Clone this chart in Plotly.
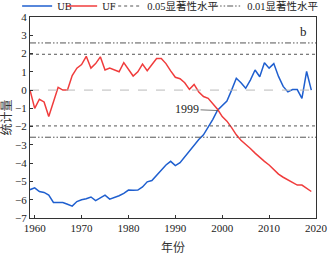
import plotly.graph_objects as go

years = list(range(1959, 2020))

uf = [0.0, -1.0, -0.5, -0.65, -1.45, -0.65, 0.15, 0.0, 0.0, 0.8,
      1.2, 1.4, 1.85, 1.2, 1.45, 1.82, 1.1, 1.2, 1.1, 1.0,
      1.5, 1.1, 0.77, 1.0, 1.42, 1.06, 1.4, 1.73, 1.73, 1.45,
      1.05, 0.7, 0.62, 0.4, 0.04, 0.31, -0.1, -0.35, -0.45, -0.75,
      -1.05, -1.45, -1.7, -2.05, -2.45, -2.75, -2.95, -3.2, -3.45, -3.7,
      -3.9, -4.1, -4.35, -4.6, -4.77, -4.9, -5.05, -5.2, -5.2, -5.4,
      -5.55]

ub = [-5.45, -5.35, -5.55, -5.6, -5.75, -6.15, -6.15, -6.15, -6.25, -6.35,
      -6.1, -6.0, -5.95, -5.85, -6.05, -5.9, -5.75, -5.97, -5.88, -5.78,
      -5.65, -5.47, -5.48, -5.47, -5.3, -5.02, -4.95, -4.65, -4.4, -4.1,
      -3.9, -4.13, -3.97, -3.65, -3.35, -3.0, -2.7, -2.45, -2.05, -1.6,
      -1.1, -0.82, -0.6, 0.0, 0.65, 0.4, 0.1, 0.55, 1.1, 0.73,
      1.5, 1.2, 1.45, 0.75, 0.2, -0.1, 0.03, 0.03, -0.45, 1.02,
      0.0]

x_span = [1959, 2020]
sig05 = 1.96
sig01 = 2.58
x_ticks = [1960, 1970, 1980, 1990, 2000, 2010, 2020]
y_ticks = [4, 3, 2, 1, 0, -1, -2, -3, -4, -5, -6, -7]

FONT = "Liberation Serif, Times New Roman, Noto Sans CJK SC, serif"
DASHDOT = "6px,2px,1.5px,2px,1.5px,2px"
GRAY = "#555555"

fig = go.Figure()
fig.add_trace(go.Scatter(x=years, y=ub, mode="lines", name="UB", legendwidth=0.01,
                         line=dict(color="#1f5fcf", width=1.5)))
fig.add_trace(go.Scatter(x=years, y=uf, mode="lines", name="UF", legendwidth=0.01,
                         line=dict(color="#f03c3c", width=1.5)))
fig.add_trace(go.Scatter(x=x_span, y=[sig05, sig05], mode="lines", name="0.05显著性水平",
                         legendwidth=55, line=dict(color=GRAY, width=1, dash="dot")))
fig.add_trace(go.Scatter(x=x_span, y=[-sig05, -sig05], mode="lines", showlegend=False,
                         line=dict(color=GRAY, width=1, dash="dot")))
fig.add_trace(go.Scatter(x=x_span, y=[sig01, sig01], mode="lines", name="0.01显著性水平",
                         legendwidth=75, line=dict(color=GRAY, width=1, dash=DASHDOT)))
fig.add_trace(go.Scatter(x=x_span, y=[-sig01, -sig01], mode="lines", showlegend=False,
                         line=dict(color=GRAY, width=1, dash=DASHDOT)))
fig.add_trace(go.Scatter(x=x_span, y=[0, 0], mode="lines", showlegend=False,
                         line=dict(color="#bbbbbb", width=1, dash="dash")))

fig.add_annotation(x=1999.1, y=-1.12, ax=1992.5, ay=-1.05, axref="x", ayref="y",
                   text="1999", showarrow=True, arrowhead=0, arrowwidth=0.8,
                   arrowcolor=GRAY, font=dict(family=FONT, size=12, color="#222"))
fig.add_annotation(x=0.955, y=0.93, xref="paper", yref="paper", text="b",
                   xanchor="center", yanchor="middle",
                   showarrow=False, font=dict(family=FONT, size=13, color="#222"))

axis_common = dict(showline=True, linecolor="#333", linewidth=1, mirror=True,
                   ticks="inside", ticklen=3, tickcolor="#333", showgrid=False,
                   zeroline=False, tickfont=dict(family=FONT, size=11, color="#222"))

fig.update_xaxes(range=x_span, tickvals=x_ticks, title=dict(text="年份", standoff=10,
                 font=dict(family=FONT, size=12, color="#333")), **axis_common)
fig.update_yaxes(range=[-7, 4], tickvals=y_ticks, title=dict(text="统计量", standoff=2,
                 font=dict(family=FONT, size=12, color="#333")), **axis_common)

fig.update_layout(
    width=328, height=255,
    margin=dict(l=30, r=12, t=17, b=37, autoexpand=False),
    plot_bgcolor="white", paper_bgcolor="white",
    font=dict(family=FONT, size=11, color="#222"),
    legend=dict(orientation="h", x=-0.045, y=1.0547, xanchor="left", yanchor="middle",
                font=dict(family=FONT, size=10.5, color="#222"),
                itemwidth=30, tracegroupgap=0, bgcolor="rgba(0,0,0,0)",
                entrywidthmode="pixels"),
)

fig.write_html("out.html", config={"displayModeBar": False},
               post_script="document.body.style.margin='0';document.body.style.padding='0';")
